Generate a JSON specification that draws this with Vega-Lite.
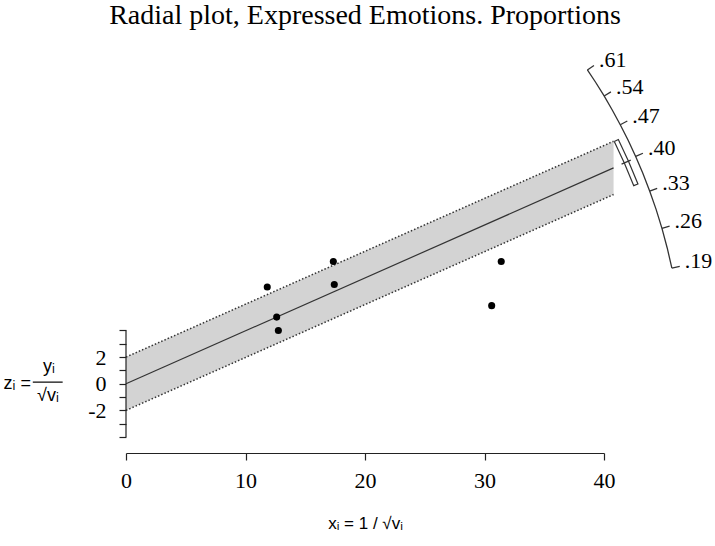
{
  "$schema": "https://vega.github.io/schema/vega-lite/v6.json",
  "width": 478,
  "height": 413,
  "autosize": {"type": "none"},
  "padding": {"left": 126, "top": 40, "right": 111, "bottom": 93},
  "background": "white",
  "config": {"view": {"stroke": null}, "axis": {"grid": false}},
  "title": {"text": "Radial plot, Expressed Emotions. Proportions", "font": "Liberation Serif", "fontSize": 28, "fontWeight": "normal", "color": "black", "anchor": "middle", "offset": 10},
  "datasets": {
    "points": [
      {"x": 11.82, "y": 7.26}, {"x": 17.35, "y": 9.17}, {"x": 17.43, "y": 7.45},
      {"x": 12.61, "y": 5.0}, {"x": 12.75, "y": 4.0}, {"x": 31.4, "y": 9.17}, {"x": 30.6, "y": 5.86}
    ],
    "band": [{"x": 0, "y": -2, "y2": 2}, {"x": 40.8, "y": 14.2, "y2": 18.2}],
    "bandlines": [
      {"x": 0, "y": 2, "x2": 40.8, "y2": 18.2},
      {"x": 0, "y": -2, "x2": 40.8, "y2": 14.2}
    ],
    "est": [{"x": 0, "y": 0, "x2": 40.8, "y2": 16.2}],
    "yaxisline": [{"x": 0, "y": -4, "y2": 4}],
    "arc": [
      {"p": 0.19, "x": 45.68, "y": 8.68}, {"p": 0.225, "x": 45.29, "y": 10.19}, {"p": 0.26, "x": 44.85, "y": 11.66},
      {"p": 0.295, "x": 44.36, "y": 13.09}, {"p": 0.33, "x": 43.82, "y": 14.46}, {"p": 0.365, "x": 43.25, "y": 15.79},
      {"p": 0.40, "x": 42.65, "y": 17.06}, {"p": 0.435, "x": 42.02, "y": 18.28}, {"p": 0.47, "x": 41.36, "y": 19.44},
      {"p": 0.505, "x": 40.69, "y": 20.55}, {"p": 0.54, "x": 40.01, "y": 21.60}, {"p": 0.575, "x": 39.31, "y": 22.61},
      {"p": 0.61, "x": 38.61, "y": 23.55}
    ],
    "ticks": [
      {"x": 45.68, "y": 8.68, "x2": 46.34, "y2": 8.80},
      {"x": 44.85, "y": 11.66, "x2": 45.49, "y2": 11.83},
      {"x": 43.82, "y": 14.46, "x2": 44.45, "y2": 14.67},
      {"x": 42.65, "y": 17.06, "x2": 43.26, "y2": 17.30},
      {"x": 41.36, "y": 19.44, "x2": 41.95, "y2": 19.72},
      {"x": 40.01, "y": 21.60, "x2": 40.58, "y2": 21.91},
      {"x": 38.61, "y": 23.55, "x2": 39.16, "y2": 23.89}
    ],
    "ticklabels": [
      {"label": ".19", "x": 46.34, "y": 8.80},
      {"label": ".26", "x": 45.49, "y": 11.83},
      {"label": ".33", "x": 44.45, "y": 14.67},
      {"label": ".40", "x": 43.26, "y": 17.30},
      {"label": ".47", "x": 41.95, "y": 19.72},
      {"label": ".54", "x": 40.58, "y": 21.91},
      {"label": ".61", "x": 39.16, "y": 23.89}
    ],
    "bracket": [
      {"o": 1, "x": 40.86, "y": 18.18}, {"o": 2, "x": 41.70, "y": 16.57}, {"o": 3, "x": 42.49, "y": 14.87},
      {"o": 4, "x": 42.84, "y": 14.99}, {"o": 5, "x": 42.04, "y": 16.71}, {"o": 6, "x": 41.20, "y": 18.33},
      {"o": 7, "x": 40.86, "y": 18.18}
    ],
    "midtick": [{"x": 41.47, "y": 16.48, "x2": 42.24, "y2": 16.78}],
    "ytitle": [
      {"t": "zᵢ =", "x": -9.1, "y": 0},
      {"t": "yᵢ", "x": -6.44, "y": 1.25},
      {"t": "√vᵢ", "x": -6.53, "y": -0.95}
    ],
    "fbar": [{"x": -7.8, "x2": -5.3, "y": 0.12}]
  },
  "encoding": {
    "x": {"field": "x", "type": "quantitative", "scale": {"domain": [0, 40], "nice": false, "zero": false},
      "axis": {"values": [0, 10, 20, 30, 40], "domain": true, "domainColor": "#222222", "domainWidth": 1.2, "tickColor": "#222222", "tickWidth": 1.2, "tickSize": 7, "labelFont": "Liberation Serif", "labelFontSize": 22, "labelColor": "black", "labelPadding": 10, "labelFlush": false, "title": "xᵢ = 1 / √vᵢ", "titleFont": "Liberation Sans", "titleFontSize": 17, "titleFontWeight": "normal", "titleColor": "black", "titlePadding": 24}},
    "y": {"field": "y", "type": "quantitative", "scale": {"domain": [-5.2, 25.8], "nice": false, "zero": false},
      "axis": {"values": [-4, -3, -2, -1, 0, 1, 2, 3, 4], "domain": false, "tickColor": "#222222", "tickWidth": 1.2, "tickSize": 7, "labelFont": "Liberation Serif", "labelFontSize": 22, "labelColor": "black", "labelPadding": 13, "labelExpr": "datum.value == 2 ? '2' : datum.value == 0 ? '0' : datum.value == -2 ? '-2' : ''", "title": null}}
  },
  "layer": [
    {
      "data": {"name": "band"},
      "mark": {"type": "area", "color": "#d3d3d3", "opacity": 1},
      "encoding": {"y2": {"field": "y2"}}
    },
    {
      "data": {"name": "bandlines"},
      "mark": {"type": "rule", "color": "#333333", "strokeWidth": 1.5, "strokeDash": [1.5, 2]},
      "encoding": {"x2": {"field": "x2"}, "y2": {"field": "y2"}}
    },
    {
      "data": {"name": "est"},
      "mark": {"type": "rule", "color": "#333333", "strokeWidth": 1.2},
      "encoding": {"x2": {"field": "x2"}, "y2": {"field": "y2"}}
    },
    {
      "data": {"name": "points"},
      "mark": {"type": "circle", "color": "black", "opacity": 1, "size": 50}
    },
    {
      "data": {"name": "yaxisline"},
      "mark": {"type": "rule", "color": "#222222", "strokeWidth": 1.2},
      "encoding": {"y2": {"field": "y2"}}
    },
    {
      "data": {"name": "arc"},
      "mark": {"type": "line", "color": "#333333", "strokeWidth": 1.3},
      "encoding": {"order": {"field": "p"}}
    },
    {
      "data": {"name": "ticks"},
      "mark": {"type": "rule", "color": "#333333", "strokeWidth": 1.3},
      "encoding": {"x2": {"field": "x2"}, "y2": {"field": "y2"}}
    },
    {
      "data": {"name": "ticklabels"},
      "mark": {"type": "text", "align": "left", "baseline": "middle", "dx": 5, "dy": -5, "font": "Liberation Serif", "fontSize": 22, "color": "black"},
      "encoding": {"text": {"field": "label"}}
    },
    {
      "data": {"name": "bracket"},
      "mark": {"type": "line", "color": "#333333", "strokeWidth": 1.2},
      "encoding": {"order": {"field": "o"}}
    },
    {
      "data": {"name": "midtick"},
      "mark": {"type": "rule", "color": "#333333", "strokeWidth": 1.2},
      "encoding": {"x2": {"field": "x2"}, "y2": {"field": "y2"}}
    },
    {
      "data": {"name": "ytitle"},
      "mark": {"type": "text", "align": "center", "baseline": "middle", "font": "Liberation Sans", "fontSize": 18, "color": "black"},
      "encoding": {"text": {"field": "t"}}
    },
    {
      "data": {"name": "fbar"},
      "mark": {"type": "rule", "color": "black", "strokeWidth": 1.2},
      "encoding": {"x2": {"field": "x2"}}
    }
  ]
}
